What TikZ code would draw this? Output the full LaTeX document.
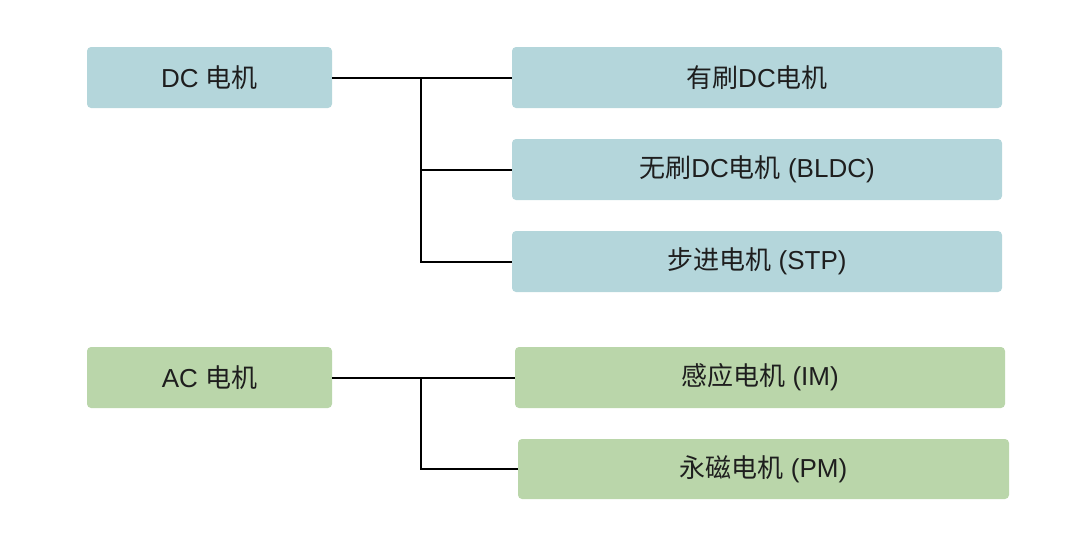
\documentclass[tikz,border=0pt]{standalone}
\usepackage{fontspec}
\setmainfont{Liberation Sans}
\newfontfamily\cjk{Noto Sans CJK SC}
\usepackage{tikz}
\definecolor{dcblue}{RGB}{180,214,219}
\definecolor{acgreen}{RGB}{186,214,170}
\definecolor{txtgray}{RGB}{30,30,30}

\begin{document}
\begin{tikzpicture}[x=1pt,y=-1pt,
    motor/.style={rounded corners=4pt, text=txtgray, font=\fontsize{26}{30}\selectfont,
                  minimum height=61pt, inner sep=0pt},
    dcbox/.style={motor, fill=dcblue},
    acbox/.style={motor, fill=acgreen},
    link/.style={line width=2pt, black}]
                \useasboundingbox (0,0) rectangle (1080,547);
                % DC group
                \node[dcbox, minimum width=245pt] (dc)  at (209.5,77.5)  {DC {\cjk 电机}};
                \node[dcbox, minimum width=490pt] (dc1) at (757,77.5)    {{\cjk 有刷}DC{\cjk 电机}};
                \node[dcbox, minimum width=490pt] (dc2) at (757,169.5)   {{\cjk 无刷}DC{\cjk 电机} (BLDC)};
                \node[dcbox, minimum width=490pt] (dc3) at (757,261.5)   {{\cjk 步进电机} (STP)};
                \coordinate (jdc) at (421,77.5);
                \draw[link] (dc.east) -- (dc1.west);
                \draw[link] (jdc) |- (dc2.west);
                \draw[link] (jdc) |- (dc3.west);
                % AC group
                \node[acbox, minimum width=245pt] (ac)  at (209.5,377.5) {AC {\cjk 电机}};
                \node[acbox, minimum width=490pt] (ac1) at (760,377.5)   {{\cjk 感应电机} (IM)};
                \node[acbox, minimum width=491pt, minimum height=60pt] (ac2) at (763.5,469) {{\cjk 永磁电机} (PM)};
                \coordinate (jac) at (421,377.5);
                \draw[link] (ac.east) -- (ac1.west);
                \draw[link] (jac) |- (ac2.west);
\end{tikzpicture}
\end{document}
